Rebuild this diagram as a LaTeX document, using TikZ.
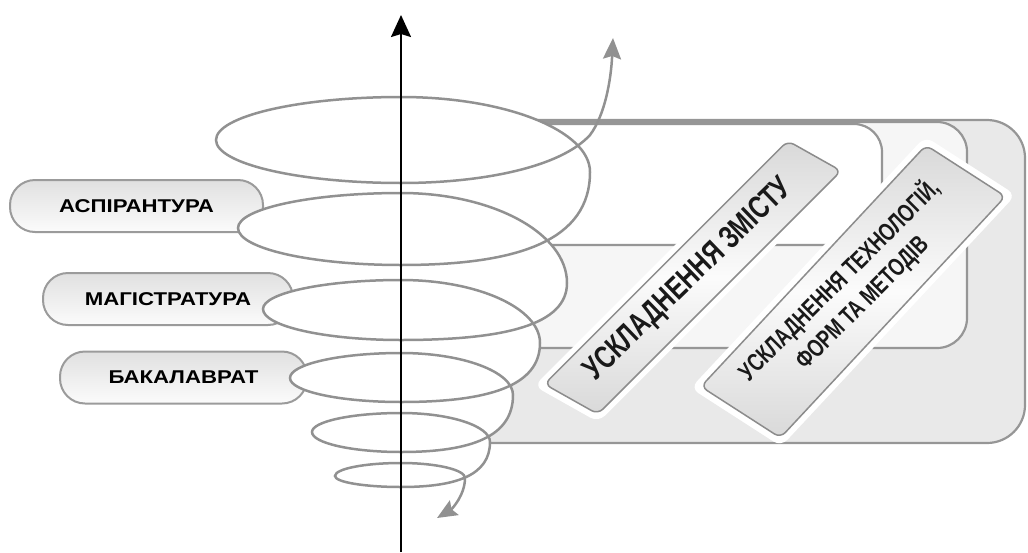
\documentclass[tikz,border=0pt]{standalone}
\usepackage{fontspec}
\setmainfont{Liberation Sans}
\newfontfamily\labfont[FakeStretch=1.2]{Liberation Sans}
\newfontfamily\barfont[FakeStretch=0.74]{Liberation Sans}
\usetikzlibrary{arrows.meta}
\definecolor{spiralgray}{RGB}{145,145,145}
\definecolor{panelline}{RGB}{150,150,150}
\definecolor{outerfill}{RGB}{233,233,233}
\definecolor{midfill}{RGB}{246,246,246}
\definecolor{pillline}{RGB}{155,155,155}
\definecolor{barline}{RGB}{140,140,140}
\begin{document}
\begin{tikzpicture}[x=1pt,y=-1pt,
  panel/.style={draw=panelline, line width=2.2pt, rounded corners=#1},
  pill/.style={draw=pillline, line width=2pt, rounded corners=25pt, minimum height=52pt,
    top color=gray!24, bottom color=gray!3, inner sep=0pt,
    font=\labfont\bfseries\fontsize{18.5}{20}\selectfont},
  barhalo/.style={fill=white, inner sep=0pt, rounded corners=9pt},
  barshape/.style={draw=barline, line width=1.5pt, rounded corners=7pt, inner sep=0pt,
    top color=gray!30, bottom color=gray!30, middle color=gray!3},
  bartext/.style={inner sep=0pt, text=black!90},
  spiral/.style={draw=spiralgray, line width=2.5pt},
  ringfill/.style={fill=white},
  axisline/.style={draw=black, line width=2pt},
]
\useasboundingbox (0,0) rectangle (1028,552);

% background panels
\draw[panel=38pt, fill=outerfill] (420,120) rectangle (1025,443);
\draw[panel=30pt, fill=midfill] (420,122) rectangle (967,348);
\draw[panel=28pt, fill=white] (420,124) rectangle (882,245);

% slanted bars
\node[barhalo, rotate=45, xslant=-0.28, minimum width=358pt, minimum height=71pt] (h1) at (692.8,277.5) {};
\node[barhalo, rotate=47, xslant=-0.18, minimum width=344pt, minimum height=106pt] (h2) at (853.2,291.5) {};
\node[barshape, rotate=45, xslant=-0.28, minimum width=344pt, minimum height=59pt] (b1) at (692.8,277.5) {};
\node[barshape, rotate=47, xslant=-0.18, minimum width=330pt, minimum height=93pt] (b2) at (853.2,291.5) {};
\node[bartext, rotate=44, font=\barfont\bfseries\fontsize{32}{34}\selectfont] (t1) at (689,280) {УСКЛАДНЕННЯ ЗМІСТУ};
\node[bartext, rotate=45, align=center, font=\barfont\bfseries\fontsize{25}{32}\selectfont] (t2) at (850,291) {УСКЛАДНЕННЯ ТЕХНОЛОГІЙ,\\ФОРМ ТА МЕТОДІВ};

% level labels
\node[pill, minimum width=253pt] (asp) at (136.5,206) {АСПІРАНТУРА};
\node[pill, minimum width=250pt] (mag) at (168,299) {МАГІСТРАТУРА};
\node[pill, minimum width=247pt] (bak) at (183.5,377.5) {БАКАЛАВРАТ};

% white interiors of the spiral turns
\fill[ringfill] (401,183) .. controls (298.8,183) and (216,163.7) .. (216,140)
  .. controls (216,116.3) and (298.8,97) .. (401,97)
  .. controls (505.4,97) and (590,130.6) .. (590,172)
  .. controls (590,239.9) and (520.1,265) .. (401,265) -- cycle;
\fill[ringfill] (401,265) .. controls (311,265) and (238,248.4) .. (238,228)
  .. controls (238,208.7) and (311,193) .. (401,193)
  .. controls (492.7,193) and (567,233.3) .. (567,283)
  .. controls (567,324.6) and (505.6,340) .. (401,340) -- cycle;
\fill[ringfill] (401,340) .. controls (324.8,340) and (263,326.1) .. (263,309)
  .. controls (263,293) and (324.8,280) .. (401,280)
  .. controls (477.8,280) and (540,308.2) .. (540,343)
  .. controls (540,386.1) and (488.6,402) .. (401,402) -- cycle;
\fill[ringfill] (401,402) .. controls (339.7,402) and (290,391.3) .. (290,378)
  .. controls (290,364.2) and (339.7,353) .. (401,353)
  .. controls (462.9,353) and (513,371.8) .. (513,395)
  .. controls (513,436.6) and (471.6,452) .. (401,452) -- cycle;
\fill[ringfill] (401,452) .. controls (351.8,452) and (312,443) .. (312,432)
  .. controls (312,421.5) and (351.8,413) .. (401,413)
  .. controls (450.2,413) and (490,426) .. (490,442)
  .. controls (490,474.9) and (457.1,487) .. (401,487) -- cycle;
\fill[ringfill] (401,487) .. controls (364.5,487) and (335,482.1) .. (335,476)
  .. controls (335,468.8) and (364.5,463) .. (401,463)
  .. controls (436.3,463) and (465,469.7) .. (465,478)
  .. controls (465,495) and (452,509) .. (437,518) -- cycle;

% spiral line
\coordinate (sptop) at (613,38);
\coordinate (spbot) at (437,518);
\draw[spiral, {Stealth[length=21pt,width=18pt,inset=3pt]}-{Stealth[length=20pt,width=17pt,inset=3pt]}]
  (sptop) .. controls (611,80) and (605,115) .. (590,135)
  .. controls (560,168) and (480,183) .. (401,183)
  .. controls (298.8,183) and (216,163.7) .. (216,140)
  .. controls (216,116.3) and (298.8,97) .. (401,97)
  .. controls (505.4,97) and (590,130.6) .. (590,172)
  .. controls (590,239.9) and (520.1,265) .. (401,265)
  .. controls (311,265) and (238,248.4) .. (238,228)
  .. controls (238,208.7) and (311,193) .. (401,193)
  .. controls (492.7,193) and (567,233.3) .. (567,283)
  .. controls (567,324.6) and (505.6,340) .. (401,340)
  .. controls (324.8,340) and (263,326.1) .. (263,309)
  .. controls (263,293) and (324.8,280) .. (401,280)
  .. controls (477.8,280) and (540,308.2) .. (540,343)
  .. controls (540,386.1) and (488.6,402) .. (401,402)
  .. controls (339.7,402) and (290,391.3) .. (290,378)
  .. controls (290,364.2) and (339.7,353) .. (401,353)
  .. controls (462.9,353) and (513,371.8) .. (513,395)
  .. controls (513,436.6) and (471.6,452) .. (401,452)
  .. controls (351.8,452) and (312,443) .. (312,432)
  .. controls (312,421.5) and (351.8,413) .. (401,413)
  .. controls (450.2,413) and (490,426) .. (490,442)
  .. controls (490,474.9) and (457.1,487) .. (401,487)
  .. controls (364.5,487) and (335,482.1) .. (335,476)
  .. controls (335,468.8) and (364.5,463) .. (401,463)
  .. controls (436.3,463) and (465,469.7) .. (465,478)
  .. controls (465,495) and (452,509) .. (spbot);

% vertical axis
\coordinate (axbot) at (401,552);
\coordinate (axtop) at (401,15);
\draw[axisline, -{Stealth[length=22pt,width=20pt,inset=3pt]}] (axbot) -- (axtop);
\end{tikzpicture}
\end{document}
